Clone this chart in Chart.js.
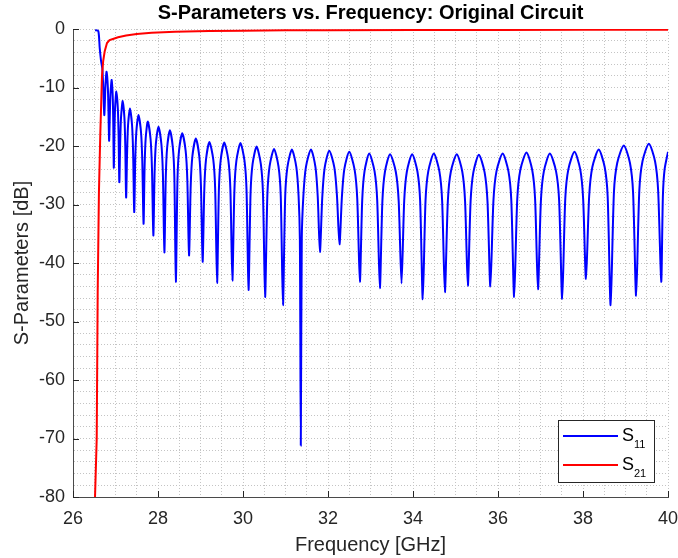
<!DOCTYPE html>
<html><head><meta charset="utf-8">
<script src="https://cdn.jsdelivr.net/npm/chart.js@4.4.1/dist/chart.umd.min.js"></script>
<style>html,body{margin:0;padding:0;background:#fff}canvas{display:block}</style>
</head><body>
<canvas id="c" width="678" height="558"></canvas>
<script>
const titleText = 'S-Parameters vs. Frequency: Original Circuit';
const xAxisTitle = 'Frequency [GHz]';
const yAxisTitle = 'S-Parameters [dB]';
const xMajorTicks = [26, 28, 30, 32, 34, 36, 38, 40];
const yMajorTicks = [0, -10, -20, -30, -40, -50, -60, -70, -80];
const legendNames = [['S', '11'], ['S', '21']];

const s11Freq = [26.52,26.595,26.628,26.659,26.689,26.706,26.736,26.750,26.763,26.79,26.82,26.835,26.85,26.865,26.88,26.91,26.935,26.948,26.96,26.975,26.99,27.02,27.055,27.073,27.09,27.11,27.13,27.17,27.21,27.23,27.25,27.273,27.295,27.34,27.39,27.415,27.44,27.465,27.49,27.54,27.60,27.63,27.66,27.685,27.71,27.76,27.825,27.858,27.89,27.92,27.95,28.01,28.08,28.115,28.15,28.183,28.215,28.28,28.35,28.385,28.42,28.458,28.495,28.57,28.65,28.69,28.73,28.77,28.81,28.89,28.97,29.01,29.05,29.09,29.13,29.21,29.30,29.345,29.39,29.433,29.475,29.56,29.655,29.703,29.75,29.798,29.845,29.94,30.035,30.083,30.13,30.178,30.225,30.32,30.42,30.47,30.52,30.573,30.625,30.73,30.835,30.888,30.94,30.993,31.045,31.15,31.255,31.308,31.338,31.36,31.383,31.42,31.48,31.60,31.705,31.758,31.81,31.865,31.92,32.03,32.15,32.21,32.27,32.328,32.385,32.50,32.625,32.688,32.75,32.805,32.86,32.97,33.095,33.158,33.22,33.28,33.34,33.46,33.595,33.663,33.73,33.793,33.855,33.98,34.105,34.168,34.23,34.295,34.36,34.49,34.62,34.685,34.75,34.82,34.89,35.03,35.16,35.225,35.29,35.355,35.42,35.55,35.685,35.753,35.82,35.893,35.965,36.11,36.245,36.313,36.38,36.453,36.525,36.67,36.805,36.873,36.94,37.01,37.08,37.22,37.365,37.438,37.51,37.583,37.655,37.80,37.935,38.003,38.07,38.145,38.22,38.37,38.51,38.58,38.65,38.728,38.805,38.96,39.105,39.178,39.25,39.325,39.40,39.55,39.695,39.768,39.84,39.88,39.92,40.0];
const s11Db = [-0.2,-0.35,-3.2,-5.4,-6.7,-9.0,-14.7,-12.5,-9.6,-7.3,-10.0,-14.2,-19.1,-15.2,-11.3,-8.7,-11.6,-16.3,-23.7,-17.9,-13.5,-10.7,-13.6,-18.3,-26.2,-19.6,-15.1,-12.3,-15.2,-19.9,-28.8,-21.2,-16.5,-13.6,-16.5,-21.3,-31.3,-22.3,-17.6,-14.7,-17.6,-22.5,-33.3,-23.5,-18.7,-15.8,-18.8,-23.8,-35.3,-24.5,-19.6,-16.7,-19.7,-24.8,-38.2,-25.4,-20.3,-17.3,-20.3,-25.3,-43.2,-25.8,-20.8,-17.8,-20.8,-25.8,-38.7,-26.7,-21.7,-18.7,-21.7,-26.7,-39.8,-27.3,-22.3,-19.3,-22.3,-27.3,-43.4,-27.4,-22.4,-19.4,-22.4,-27.4,-43.0,-27.5,-22.5,-19.5,-22.5,-27.5,-44.6,-28.1,-23.1,-20.1,-23.1,-28.1,-45.8,-28.5,-23.5,-20.5,-23.5,-28.5,-47.2,-28.6,-23.6,-20.6,-23.6,-28.6,-36,-71.2,-36,-28.6,-23.6,-20.6,-23.6,-28.6,-38.1,-28.8,-23.8,-20.8,-23.7,-28.4,-36.8,-28.6,-23.9,-21.0,-24.0,-29.0,-43.2,-29.3,-24.3,-21.3,-24.3,-29.3,-44.3,-29.4,-24.4,-21.4,-24.4,-29.4,-43.5,-29.4,-24.4,-21.4,-24.4,-29.4,-46.2,-29.3,-24.3,-21.3,-24.3,-29.3,-45.0,-29.4,-24.4,-21.4,-24.4,-29.4,-43.9,-29.5,-24.5,-21.5,-24.5,-29.5,-44.0,-29.3,-24.3,-21.3,-24.3,-29.3,-45.8,-29.1,-24.1,-21.1,-24.1,-29.1,-44.5,-29.3,-24.3,-21.3,-24.3,-29.3,-46.1,-29.0,-24.0,-21.0,-24.0,-29.0,-42.7,-28.6,-23.6,-20.6,-23.6,-28.6,-47.2,-27.9,-22.9,-19.9,-22.9,-27.9,-45.6,-27.6,-22.6,-19.6,-22.6,-27.6,-43.2,-28.5,-24.0,-21.0];

const s21Freq = [26.518,26.558,26.581,26.61,26.642,26.682,26.71,26.746,26.80,26.86,26.94,27.06,27.25,27.5,27.85,28.4,29.2,30,31,32,34,36,38,40];
const s21Db = [-80,-70,-45,-28,-18,-8,-5.5,-3.8,-2.4,-1.9,-1.7,-1.4,-1.1,-0.85,-0.65,-0.45,-0.35,-0.28,-0.22,-0.2,-0.18,-0.15,-0.13,-0.12];

const toXY = (xs, ys) => xs.map((x, i) => ({x: x, y: ys[i]}));
const FONT = '"Liberation Sans", Arial, Helvetica, sans-serif';
const AXIS_COLOR = '#262626';

const decor = {
  id: 'decor',
  beforeDraw(chart) {
    const c = chart.ctx;
    c.save(); c.fillStyle = '#fff'; c.fillRect(0, 0, chart.width, chart.height); c.restore();
  },
  afterDraw(chart) {
    const ctx = chart.ctx, xs = chart.scales.x, ys = chart.scales.y, a = chart.chartArea;
    ctx.save();
    ctx.strokeStyle = AXIS_COLOR; ctx.lineWidth = 1;
    xMajorTicks.forEach(v => {
      const px = Math.round(xs.getPixelForValue(v)) + 0.5;
      ctx.beginPath(); ctx.moveTo(px, a.bottom); ctx.lineTo(px, a.bottom - 6); ctx.stroke();
    });
    yMajorTicks.forEach(v => {
      const py = Math.round(ys.getPixelForValue(v)) + 0.5;
      ctx.beginPath(); ctx.moveTo(a.left, py); ctx.lineTo(a.left + 6, py); ctx.stroke();
    });
    // title
    ctx.fillStyle = '#000';
    ctx.font = 'bold 20px ' + FONT;
    ctx.textAlign = 'center'; ctx.textBaseline = 'middle';
    ctx.fillText(titleText, (a.left + a.right) / 2, 13);
    // legend
    const bx = 558, by = 420, bw = 96, bh = 62;
    ctx.fillStyle = '#fff';
    ctx.fillRect(bx, by, bw, bh);
    ctx.strokeStyle = AXIS_COLOR; ctx.lineWidth = 1;
    ctx.strokeRect(bx + 0.5, by + 0.5, bw, bh);
    const colors = ['#0000ff', '#ff0000'];
    const rows = [436, 465];
    legendNames.forEach((nm, i) => {
      ctx.strokeStyle = colors[i]; ctx.lineWidth = 2;
      ctx.beginPath(); ctx.moveTo(563, rows[i]); ctx.lineTo(618, rows[i]); ctx.stroke();
      ctx.fillStyle = '#000'; ctx.textAlign = 'left'; ctx.textBaseline = 'alphabetic';
      ctx.font = '18px ' + FONT;
      ctx.fillText(nm[0], 622, rows[i] + 4.5);
      ctx.font = '11px ' + FONT;
      ctx.fillText(nm[1], 634, rows[i] + 11.5);
    });
    ctx.restore();
  }
};

new Chart(document.getElementById('c'), {
  type: 'line',
  data: {
    datasets: [
      { label: 'S11', data: toXY(s11Freq, s11Db), borderColor: '#0000ff', borderWidth: 2, pointRadius: 0, tension: 0.25, order: 1, fill: false },
      { label: 'S21', data: toXY(s21Freq, s21Db), borderColor: '#ff0000', borderWidth: 2, pointRadius: 0, tension: 0, order: 0, fill: false }
    ]
  },
  options: {
    responsive: false, animation: false, devicePixelRatio: 1,
    layout: { padding: { top: 29, right: 10, left: 0, bottom: 0 } },
    plugins: { legend: { display: false }, title: { display: false }, tooltip: { enabled: false } },
    scales: {
      x: {
        type: 'linear', min: 26, max: 40,
        afterFit: s => { s.height = 61; s.paddingLeft = 0; s.paddingRight = 0; },
        ticks: { stepSize: 0.5, autoSkip: false, maxRotation: 0, padding: 11, color: AXIS_COLOR,
          font: { family: FONT, size: 18 },
          callback: v => xMajorTicks.includes(v) ? String(v) : '' },
        grid: { color: '#c4c4c4', lineWidth: 1, drawTicks: false },
        border: { display: true, color: '#4a4a4a', width: 1, dash: [1, 2] },
        title: { display: true, text: xAxisTitle, color: AXIS_COLOR, font: { family: FONT, size: 20 }, padding: { top: 0, bottom: 1 } }
      },
      y: {
        type: 'linear', min: -80, max: 0,
        afterFit: s => { s.width = 73; s.paddingTop = 0; s.paddingBottom = 0; },
        ticks: { stepSize: 2, autoSkip: false, padding: 8, color: AXIS_COLOR,
          font: { family: FONT, size: 18 },
          callback: v => yMajorTicks.includes(v) ? String(v) : '' },
        grid: { color: '#c4c4c4', lineWidth: 1, drawTicks: false },
        border: { display: true, color: '#4a4a4a', width: 1, dash: [1, 2] },
        title: { display: true, text: yAxisTitle, color: AXIS_COLOR, font: { family: FONT, size: 20 }, padding: { top: 10, bottom: 0 } }
      }
    }
  },
  plugins: [decor]
});
</script>
</body></html>
